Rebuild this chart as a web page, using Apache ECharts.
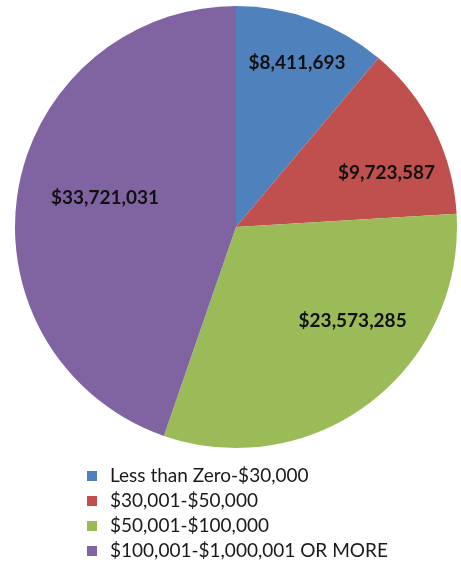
<!DOCTYPE html>
<html>
<head>
<meta charset="utf-8">
<script src="https://cdn.jsdelivr.net/npm/echarts@6/dist/echarts.min.js"></script>
<style>
  html, body { margin: 0; padding: 0; background: #fff; }
  #chart { width: 461px; height: 564px; }
</style>
</head>
<body>
<div id="chart"></div>
<script>
const categories = [
  'Less than Zero-$30,000',
  '$30,001-$50,000',
  '$50,001-$100,000',
  '$100,001-$1,000,001 OR MORE'
]
const amounts = [8411693, 9723587, 23573285, 33721031]
const colors = ['#4f81bd', '#c0504d', '#9bbb59', '#8064a2']

// small per-slice nudges so the inside labels sit where Excel put them
const labelNudge = [[22, -58], [49, -3], [48, 3], [-19, -10]]

const chart = echarts.init(document.getElementById('chart'))

const fmt = v => '$' + v.toLocaleString('en-US')

chart.setOption({
  backgroundColor: '#fff',
  animation: false,
  color: colors,
  legend: {
    orient: 'vertical',
    left: 87,
    top: 466,
    height: 100,
    padding: 0,
    icon: 'rect',
    itemWidth: 10,
    itemHeight: 10,
    itemGap: 5,
    data: categories,
    textStyle: {
      fontFamily: 'Lato',
      fontSize: 19,
      lineHeight: 20,
      color: '#1a1a1a',
      padding: [0, 0, 0, 8]
    }
  },
  series: [
    {
      type: 'pie',
      center: [236, 227],
      radius: 221,
      startAngle: 90,
      clockwise: true,
      itemStyle: { borderWidth: 0 },
      emphasis: { disabled: true },
      label: {
        show: true,
        position: 'inside',
        fontFamily: 'Lato',
        fontWeight: 'bold',
        fontSize: 19,
        color: '#111',
        formatter: p => fmt(p.value)
      },
      labelLine: { show: false },
      labelLayout: p => ({ dx: labelNudge[p.dataIndex][0], dy: labelNudge[p.dataIndex][1] }),
      data: categories.map((name, i) => ({ name, value: amounts[i] }))
    }
  ]
})
</script>
</body>
</html>
